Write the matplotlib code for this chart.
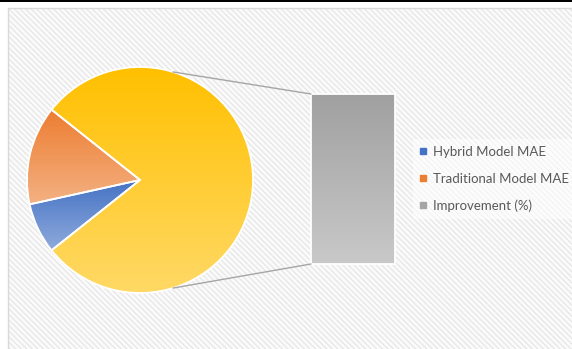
import numpy as np
import matplotlib
matplotlib.use("Agg")
import matplotlib.pyplot as plt
from matplotlib.patches import Rectangle, ConnectionPatch
from matplotlib.colors import LinearSegmentedColormap
from matplotlib.lines import Line2D

plt.rcParams['font.family'] = ['Lato', 'DejaVu Sans']
plt.rcParams['hatch.linewidth'] = 0.7

# MAE of both models and the relative improvement
labels = ["Hybrid Model MAE", "Traditional Model MAE", "Improvement (%)"]
values = [4.5, 8.8, 48.9]

# top / bottom colours of each gradient fill
grad_colors = [("#4472c4", "#8faadc"),
               ("#ed7d31", "#f4b183"),
               ("#ffc000", "#ffd966")]
bar_grad = ("#a0a0a0", "#c9c9c9")
legend_colors = ["#4472c4", "#ed7d31", "#a5a5a5"]

W, H = 572, 349
fig = plt.figure(figsize=(W / 100, H / 100), dpi=100)

# background layer in pixel coordinates
ax_bg = fig.add_axes([0, 0, 1, 1])
ax_bg.set_xlim(0, W)
ax_bg.set_ylim(H, 0)
ax_bg.axis("off")
ax_bg.add_patch(Rectangle((0, 0), W, 1.6, facecolor="black", lw=0))
ax_bg.add_patch(Rectangle((7.5, 7.5), W, H, facecolor="#fafafa", edgecolor="#e2e2e2",
                          hatch="\\\\\\\\\\\\", lw=0))
ax_bg.add_patch(Rectangle((7.5, 7.5), W, H, facecolor="none", edgecolor="#d9d9d9", lw=1))
ax_bg.add_patch(Rectangle((413, 139), 170, 80, facecolor="white", alpha=0.55, lw=0))


def gradient_fill(ax, patch, top, bottom):
    x0, y0, x1, y1 = patch.get_path().get_extents(patch.get_patch_transform()).extents
    cmap = LinearSegmentedColormap.from_list("g", [top, bottom])
    img = ax.imshow(np.linspace(0, 1, 256).reshape(-1, 1), cmap=cmap, aspect="auto",
                    extent=(x0, x1, y0, y1), origin="upper",
                    zorder=patch.get_zorder() - 0.1)
    img.set_clip_path(patch)
    patch.set_facecolor("none")


# pie: centre (140, 180) px, radius 113 px
cx, cy, r, half = 140, 180, 113, 120
ax_pie = fig.add_axes([(cx - half) / W, (H - cy - half) / H, 2 * half / W, 2 * half / H])
other_deg = 360 * values[2] / sum(values)
wedges, _ = ax_pie.pie(values, startangle=360 - other_deg / 2, counterclock=False,
                       wedgeprops=dict(edgecolor="white", linewidth=1.3))
for w, (top, bottom) in zip(wedges, grad_colors):
    gradient_fill(ax_pie, w, top, bottom)
lim = half / r
ax_pie.set_xlim(-lim, lim)
ax_pie.set_ylim(-lim, lim)
ax_pie.set_aspect("equal")
ax_pie.axis("off")

# bar for the split-out slice
bx0, bx1, by0, by1 = 311, 395, 94, 264
ax_bar = fig.add_axes([bx0 / W, (H - by1) / H, (bx1 - bx0) / W, (by1 - by0) / H])
bars = ax_bar.bar([0], [values[2]], width=1, edgecolor="white", linewidth=1.3)
bars[0].set_clip_on(False)
gradient_fill(ax_bar, bars[0], *bar_grad)
ax_bar.set_xlim(-0.5, 0.5)
ax_bar.set_ylim(0, values[2])
ax_bar.axis("off")

# connector lines from the pie to the bar
link_angle = np.deg2rad(73)
for sgn, yb in [(1, values[2]), (-1, 0)]:
    con = ConnectionPatch(xyA=(np.cos(link_angle), sgn * np.sin(link_angle)), coordsA=ax_pie.transData,
                          xyB=(-0.5, yb), coordsB=ax_bar.transData,
                          color="#a6a6a6", lw=1.0)
    fig.add_artist(con)
    con.set_zorder(0.5)

handles = [Line2D([], [], marker="s", ls="none", markersize=5, color=c) for c in legend_colors]
leg = ax_bg.legend(handles, labels, loc="center left", bbox_to_anchor=(419, 179),
                   bbox_transform=ax_bg.transData, frameon=False, fontsize=9.5,
                   labelcolor="#595959", handlelength=0.6, handletextpad=0.45,
                   labelspacing=1.12, borderaxespad=0, borderpad=0)

fig.savefig("out.png", dpi=100)
